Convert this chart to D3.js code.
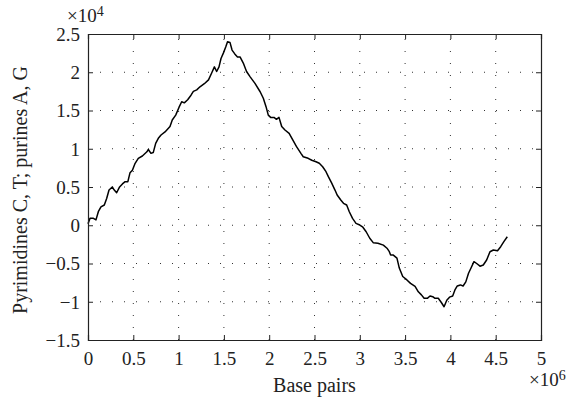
<!DOCTYPE html>
<html>
<head>
<meta charset="utf-8">
<script src="https://cdn.jsdelivr.net/npm/d3@7"></script>
<style>
  body { margin: 0; background: #fff; }
  svg text { font-family: "Liberation Serif", "Times New Roman", serif; fill: #222; }
  .grid line { stroke: #333; stroke-width: 1; stroke-dasharray: 1,11; }
</style>
</head>
<body>
<svg id="chart"></svg>
<script>
// base pairs (x 10^6)
var basePairs = [0, 0.022, 0.06, 0.088, 0.114, 0.143, 0.18, 0.206, 0.232, 0.268, 0.29, 0.316, 0.346, 0.38, 0.41, 0.44,
  0.464, 0.49, 0.52, 0.555, 0.6, 0.65, 0.666, 0.695, 0.72, 0.747, 0.776, 0.806, 0.85, 0.905, 0.93, 0.968,
  1.004, 1.034, 1.063, 1.10, 1.137, 1.163, 1.2, 1.236, 1.284, 1.33, 1.365, 1.395, 1.42, 1.446, 1.468, 1.494,
  1.52, 1.54, 1.567, 1.59, 1.62, 1.65, 1.678, 1.714, 1.75, 1.79, 1.843, 1.90, 1.935, 1.965, 1.99, 2.016,
  2.053, 2.08, 2.108, 2.138, 2.174, 2.22, 2.26, 2.30, 2.35, 2.376, 2.43, 2.47, 2.517, 2.553, 2.59, 2.627,
  2.653, 2.69, 2.726, 2.75, 2.79, 2.82, 2.855, 2.884, 2.92, 2.958, 3.0, 3.03, 3.07, 3.11, 3.15, 3.20,
  3.26, 3.30, 3.326, 3.34, 3.37, 3.41, 3.436, 3.474, 3.52, 3.56, 3.61, 3.646, 3.68, 3.71, 3.745, 3.775,
  3.805, 3.83, 3.866, 3.90, 3.93, 3.96, 3.99, 4.025, 4.05, 4.076, 4.11, 4.14, 4.17, 4.20, 4.225, 4.26,
  4.29, 4.327, 4.363, 4.40, 4.437, 4.474, 4.52, 4.555, 4.59, 4.628];
// cumulative pyrimidines - purines (x 10^4)
var skew = [0.02, 0.09, 0.09, 0.07, 0.177, 0.24, 0.265, 0.35, 0.46, 0.50, 0.46, 0.425, 0.496, 0.54, 0.57, 0.57,
  0.687, 0.72, 0.81, 0.875, 0.905, 0.96, 0.99, 0.94, 0.95, 1.07, 1.136, 1.18, 1.22, 1.29, 1.376, 1.44,
  1.54, 1.615, 1.60, 1.64, 1.70, 1.75, 1.77, 1.81, 1.85, 1.90, 1.99, 2.07, 2.01, 2.07, 2.18, 2.25,
  2.33, 2.40, 2.39, 2.29, 2.24, 2.20, 2.20, 2.12, 2.01, 1.94, 1.855, 1.745, 1.66, 1.55, 1.44, 1.41,
  1.41, 1.385, 1.41, 1.29, 1.245, 1.20, 1.115, 1.03, 0.94, 0.896, 0.875, 0.85, 0.83, 0.81, 0.765, 0.70,
  0.635, 0.55, 0.46, 0.395, 0.33, 0.287, 0.265, 0.177, 0.09, 0.025, 0.003, -0.02, -0.085, -0.17, -0.23, -0.236,
  -0.26, -0.30, -0.345, -0.39, -0.39, -0.43, -0.56, -0.67, -0.715, -0.76, -0.80, -0.87, -0.91, -0.955, -0.955, -0.925,
  -0.934, -0.955, -0.955, -1.01, -1.065, -0.98, -0.94, -0.925, -0.846, -0.794, -0.78, -0.794, -0.74, -0.628, -0.565, -0.476,
  -0.50, -0.535, -0.52, -0.454, -0.346, -0.324, -0.333, -0.28, -0.215, -0.15];

var xTicks = [0, 0.5, 1, 1.5, 2, 2.5, 3, 3.5, 4, 4.5, 5];
var yTicks = [-1.5, -1, -0.5, 0, 0.5, 1, 1.5, 2, 2.5];

var W = 578, H = 399;
var margin = {top: 34, right: 37, bottom: 59, left: 88};
var width = W - margin.left - margin.right;
var height = H - margin.top - margin.bottom;

var svg = d3.select("#chart").attr("width", W).attr("height", H);
var g = svg.append("g").attr("transform", "translate(" + margin.left + "," + margin.top + ")");

var x = d3.scaleLinear().domain([0, 5]).range([0, width]);
var y = d3.scaleLinear().domain([-1.5, 2.5]).range([height, 0]);

// dotted grid
g.append("g").attr("class", "grid")
  .selectAll("line").data(xTicks.slice(1, -1)).enter().append("line")
  .attr("x1", function(d) { return x(d); }).attr("x2", function(d) { return x(d); })
  .attr("y1", height).attr("y2", 0);
g.append("g").attr("class", "grid")
  .selectAll("line").data(yTicks.slice(1, -1)).enter().append("line")
  .attr("x1", 0).attr("x2", width)
  .attr("y1", function(d) { return y(d); }).attr("y2", function(d) { return y(d); });

// curve
var pts = basePairs.map(function(d, i) { return [d, skew[i]]; });
g.append("path")
  .datum(pts)
  .attr("fill", "none")
  .attr("stroke", "#000")
  .attr("stroke-width", 1.5)
  .attr("stroke-linejoin", "round")
  .attr("d", d3.line().x(function(d) { return x(d[0]); }).y(function(d) { return y(d[1]); }));

// axes with inward ticks (matlab style)
var fmt = function(d) { return String(d).replace("-", "\u2212"); };
var bottom = g.append("g").attr("transform", "translate(0," + height + ")")
  .call(d3.axisBottom(x).tickValues(xTicks).tickSize(-5).tickPadding(12).tickFormat(fmt));
var left = g.append("g")
  .call(d3.axisLeft(y).tickValues(yTicks).tickSize(-5).tickPadding(8).tickFormat(fmt));
g.append("g").call(d3.axisTop(x).tickValues(xTicks).tickSize(-5).tickFormat(""));
g.append("g").attr("transform", "translate(" + width + ",0)")
  .call(d3.axisRight(y).tickValues(yTicks).tickSize(-5).tickFormat(""));
g.selectAll(".domain").attr("stroke", "#222").attr("stroke-width", 1.2);
g.selectAll(".tick line").attr("stroke", "#222");
g.selectAll(".tick text").attr("font-size", 19).attr("font-family", "Liberation Serif").attr("fill", "#222");
bottom.selectAll(".tick text").attr("dy", "0.71em");
left.selectAll(".tick text").attr("dy", "0.33em");

// axis labels
svg.append("text")
  .attr("x", margin.left + width / 2).attr("y", 392)
  .attr("text-anchor", "middle").attr("font-size", 20)
  .text("Base pairs");
svg.append("text")
  .attr("transform", "translate(27,190) rotate(-90)")
  .attr("text-anchor", "middle").attr("font-size", 20)
  .text("Pyrimidines C, T; purines A, G");

// exponent labels
var e4 = svg.append("text").attr("x", 67).attr("y", 22).attr("font-size", 19);
e4.append("tspan").text("\u00d710");
e4.append("tspan").attr("font-size", 14).attr("dy", -6).text("4");
var e6 = svg.append("text").attr("x", 529).attr("y", 386).attr("font-size", 19);
e6.append("tspan").text("\u00d710");
e6.append("tspan").attr("font-size", 14).attr("dy", -6).text("6");
</script>
</body>
</html>
